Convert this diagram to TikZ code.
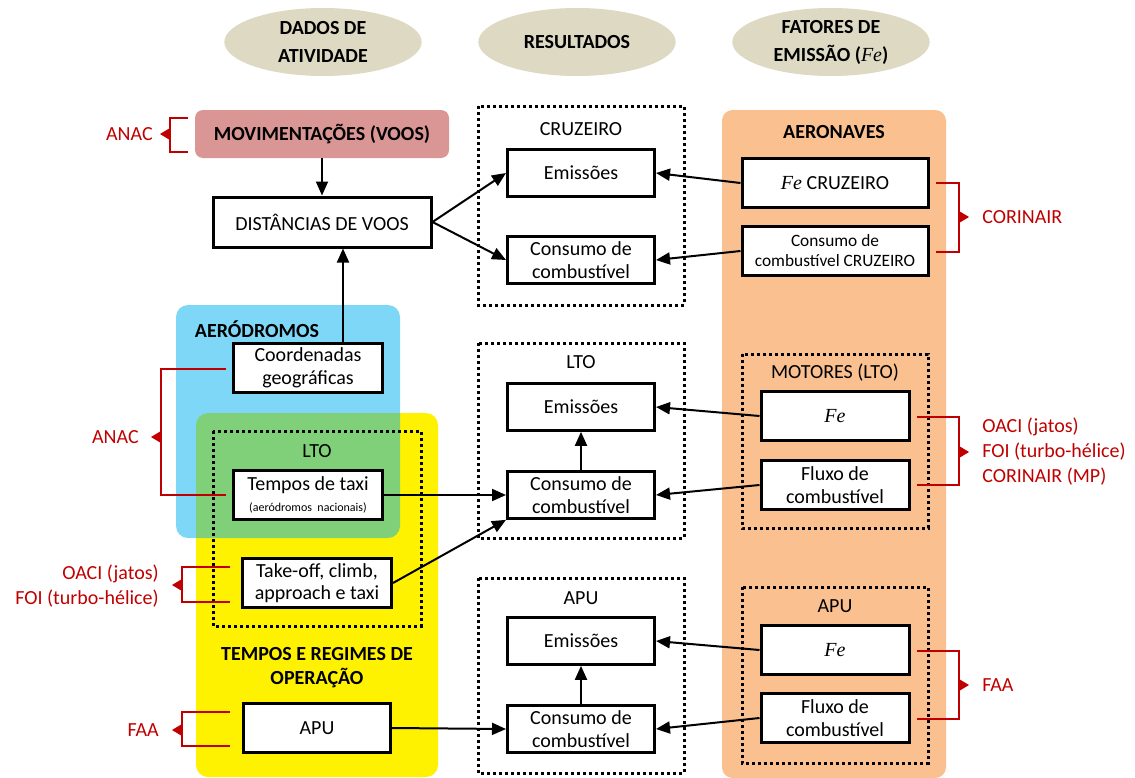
\documentclass[tikz,border=0pt]{standalone}
\usepackage{fontspec}
\setmainfont{Carlito}
\newfontfamily\serifit{Liberation Serif}
\usetikzlibrary{arrows.meta,shapes.geometric}
\definecolor{ellc}{HTML}{DDD9C3}
\definecolor{movc}{HTML}{D99694}
\definecolor{bluec}{HTML}{00B0F0}
\definecolor{orc}{HTML}{FAC090}
\definecolor{redc}{HTML}{C00000}
\newcommand{\Fe}{{\serifit\itshape Fe}}
\begin{document}
\begin{tikzpicture}[x=0.75pt,y=-0.75pt,
  every node/.style={font=\fontsize{15}{17}\selectfont, inner sep=0pt},
  box/.style={draw, line width=2.25pt, fill=white, align=center},
  mbox/.style={box, minimum width=110.25pt, minimum height=35pt},
  rbox/.style={box, minimum width=111pt, minimum height=36.75pt},
  lbox/.style={box, minimum width=111.75pt, minimum height=37pt},
  arr/.style={line width=1.5pt, -{Triangle[length=10.5pt,width=9pt]}},
  dotbox/.style={line width=2.25pt, dash pattern=on 2.25pt off 2.25pt},
  brk/.style={draw=redc, line width=2pt},
  rtxt/.style={text=redc, font=\fontsize{15}{18.75}\selectfont},
  hell/.style={ellipse, fill=ellc, minimum width=148pt, minimum height=51pt, align=center, font=\bfseries\fontsize{15}{21}\selectfont}
]
\useasboundingbox (0,0) rectangle (1135,778);

% header ellipses
\node[hell] (h1) at (323,42) {DADOS DE\\ATIVIDADE};
\node[hell] (h2) at (577,42) {RESULTADOS};
\node[hell] (h3) at (831,42) {FATORES DE\\EMISSÃO ({\mdseries\Fe})};

% backgrounds
\fill[yellow, rounded corners=9pt] (196,413) rectangle (438,777);
\fill[bluec, fill opacity=0.5, rounded corners=9pt] (176,305) rectangle (400,538);
\fill[orc, rounded corners=8pt] (722,110) rectangle (946,778);

% dotted containers
\draw[dotbox] (478,106) rectangle (684,305);
\draw[dotbox] (478,343) rectangle (684,538);
\draw[dotbox] (478,578) rectangle (684,773);
\draw[dotbox] (213,431) rectangle (421,626);
\draw[dotbox] (742,354) rectangle (928,528);
\draw[dotbox] (742,587) rectangle (928,763);

% left column
\node[fill=movc, rounded corners=6pt, minimum width=190.5pt, minimum height=36pt, font=\bfseries\fontsize{15}{17}\selectfont] (mov) at (322,134) {MOVIMENTAÇÕES (VOOS)};
\node[box, minimum width=163.5pt, minimum height=37.5pt] (dist) at (322,222) {DISTÂNCIAS DE VOOS};
\node[font=\bfseries\fontsize{15}{17}\selectfont] (aer) at (257,329) {AERÓDROMOS};
\node[lbox] (coord) at (308,368) {Coordenadas\\geográficas};
\node (ltol) at (317,451) {LTO};
\node[lbox] (taxi) at (308,495) {Tempos de taxi\\[-1pt]{\fontsize{9}{10}\selectfont (aeródromos~~nacionais)}};
\node[lbox] (take) at (317,583) {Take-off, climb,\\approach e taxi};
\node[align=center, font=\bfseries\fontsize{15}{18}\selectfont] (tempos) at (317,668) {TEMPOS E REGIMES DE\\OPERAÇÃO};
\node[lbox, minimum width=110.25pt] (apul) at (317,728) {APU};

% middle column
\node (tcr) at (581,129) {CRUZEIRO};
\node[mbox] (e1) at (581,173) {Emissões};
\node[mbox] (c1) at (581,260) {Consumo de\\combustível};
\node (tlto) at (581,362) {LTO};
\node[mbox] (e2) at (581,407) {Emissões};
\node[mbox] (c2) at (581,495) {Consumo de\\combustível};
\node (tapu) at (581,598) {APU};
\node[mbox] (e3) at (581,641) {Emissões};
\node[mbox] (c3) at (581,729) {Consumo de\\combustível};

% right column
\node[font=\bfseries\fontsize{15}{17}\selectfont] (aero) at (834,132) {AERONAVES};
\node[box, minimum width=139.5pt, minimum height=36.75pt] (fecr) at (835,183) {\Fe\ CRUZEIRO};
\node[box, minimum width=139.5pt, minimum height=36.75pt, font=\fontsize{13}{15}\selectfont] (ccr) at (835,251) {Consumo de\\combustível CRUZEIRO};
\node (tmot) at (835,373) {MOTORES (LTO)};
\node[rbox] (fe2) at (835,416) {\Fe};
\node[rbox] (fl2) at (835,485) {Fluxo de\\combustível};
\node (tapur) at (835,606) {APU};
\node[rbox] (fe3) at (835,650) {\Fe};
\node[rbox] (fl3) at (835,718) {Fluxo de\\combustível};

% connectors
\draw[arr] (mov.south) -- (dist.north);
\coordinate (cu) at (343,343);
\draw[arr] (cu) -- (cu |- dist.south);
\draw[arr] (dist.east) -- (e1.west);
\draw[arr] (dist.east) -- (c1.west);
\draw[arr] (fecr.west) -- (e1.east);
\draw[arr] (ccr.west) -- (c1.east);
\draw[arr] (fe2.west) -- (e2.east);
\draw[arr] (fl2.west) -- (c2.east);
\draw[arr] (c2.north) -- (e2.south);
\draw[arr] (taxi.east) -- (c2.west);
\draw[arr] (take.east) -- (c2.south west);
\draw[arr] (fe3.west) -- (e3.east);
\draw[arr] (fl3.west) -- (c3.east);
\draw[arr] (c3.north) -- (e3.south);
\draw[arr] (apul.east) -- (c3.west);

% red brackets (left)
\draw[brk] (188,118) -- (170,118) -- (170,152) -- (188,152);
\fill[redc] (170,128) -- (160,134) -- (170,140) -- cycle;
\node[rtxt, anchor=east] (anac1) at (153,134) {ANAC};

\draw[brk] (226,369) -- (161,369) -- (161,495) -- (226,495);
\fill[redc] (161,431) -- (151,437) -- (161,443) -- cycle;
\node[rtxt, anchor=east] (anac2) at (139,437) {ANAC};

\draw[brk] (230,567) -- (182,567) -- (182,602) -- (230,602);
\fill[redc] (182,579) -- (172,585) -- (182,591) -- cycle;
\node[rtxt, anchor=east, align=right] (oacil) at (159,586) {OACI (jatos)\\FOI (turbo-hélice)};

\draw[brk] (230,712) -- (182,712) -- (182,746) -- (230,746);
\fill[redc] (182,724) -- (172,730) -- (182,736) -- cycle;
\node[rtxt, anchor=east] (faal) at (159,730) {FAA};

% red brackets (right)
\draw[brk] (936,183) -- (959,183) -- (959,252) -- (936,252);
\fill[redc] (959,211) -- (969,217) -- (959,223) -- cycle;
\node[rtxt, anchor=west] (cor) at (982,217) {CORINAIR};

\draw[brk] (917,417) -- (959,417) -- (959,485) -- (917,485);
\fill[redc] (959,446) -- (969,452) -- (959,458) -- cycle;
\node[rtxt, anchor=west, align=left] (oacir) at (982,452) {OACI (jatos)\\FOI (turbo-hélice)\\CORINAIR (MP)};

\draw[brk] (917,651) -- (959,651) -- (959,719) -- (917,719);
\fill[redc] (959,679) -- (969,685) -- (959,691) -- cycle;
\node[rtxt, anchor=west] (faar) at (982,685) {FAA};
\end{tikzpicture}
\end{document}
